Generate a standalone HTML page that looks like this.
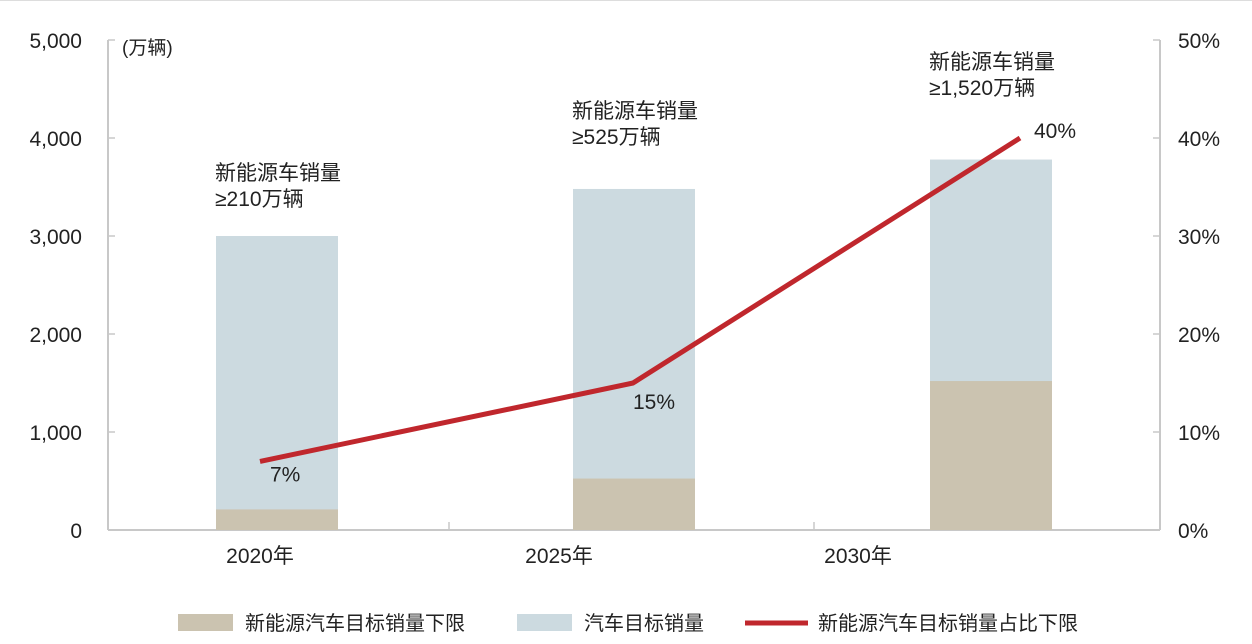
<!DOCTYPE html>
<html><head><meta charset="utf-8"><style>
body{margin:0;background:#fff;font-family:"Liberation Sans","Noto Sans CJK SC",sans-serif;}
text{font-family:"Liberation Sans","Noto Sans CJK SC",sans-serif;}
</style></head><body>
<svg id="chart" width="1252" height="639" xmlns="http://www.w3.org/2000/svg">
<line x1="0" y1="0.5" x2="1252" y2="0.5" stroke="#ddd"/>
<g id="axes"></g>
<g id="bars"></g>
<g id="line"></g>
<g id="legend">
<rect x="178" y="614" width="55" height="17" fill="#cbc3b0"/>
<text x="245" y="630" font-size="20" fill="#222">新能源汽车目标销量下限</text>
<rect x="517" y="614" width="55" height="17" fill="#ccdae0"/>
<text x="584" y="630" font-size="20" fill="#222">汽车目标销量</text>
<line x1="745" y1="623" x2="808" y2="623" stroke="#c0272d" stroke-width="5"/>
<text x="818" y="630" font-size="20" fill="#222">新能源汽车目标销量占比下限</text>
</g>
</svg>
<script>
const categories=["2020年","2025年","2030年"];
const totalSales=[3000,3480,3780];
const nevSales=[210,525,1520];
const nevShare=[7,15,40];
const leftTicks=[0,1000,2000,3000,4000,5000];
const rightTicks=[0,10,20,30,40,50];
const annotations=["≥210万辆","≥525万辆","≥1,520万辆"];
const NS="http://www.w3.org/2000/svg";
const y0=530,yTop=40;
const yL=v=>y0-(v/5000)*(y0-yTop);
const yR=v=>y0-(v/50)*(y0-yTop);
const barX=i=>216+i*357;
const barW=122;
const labelX=i=>260+i*299;
const lineX=i=>[260,633,1020][i];
const annTop=[173,111,62];
function mk(tag,attrs,parent,txt){const e=document.createElementNS(NS,tag);for(const k in attrs)e.setAttribute(k,attrs[k]);if(txt!=null)e.textContent=txt;document.getElementById(parent).appendChild(e);return e;}
let e=mk('line',{x1:108,y1:yTop,x2:108,y2:y0,stroke:'#c8c8c8','stroke-width':2},'axes');


e=mk('line',{x1:1160,y1:yTop,x2:1160,y2:y0,stroke:'#c8c8c8','stroke-width':2},'axes');


e=mk('line',{x1:108,y1:y0,x2:1160,y2:y0,stroke:'#c8c8c8','stroke-width':2},'axes');


[449,814].forEach(x=>{
 e=mk('line',{x1:x,y1:y0-8,x2:x,y2:y0,stroke:'#c8c8c8','stroke-width':1.5},'axes');
 
 
});
leftTicks.forEach(v=>{
 e=mk('line',{x1:108,y1:yL(v),x2:115,y2:yL(v),stroke:'#c8c8c8','stroke-width':1.5},'axes');
 
 
 e=mk('text',{x:82,y:yL(v)+8,'font-size':21,'text-anchor':'end',fill:'#222'},'axes',v.toLocaleString('en-US'));
 
 
});
rightTicks.forEach(v=>{
 e=mk('line',{x1:1153,y1:yR(v),x2:1160,y2:yR(v),stroke:'#c8c8c8','stroke-width':1.5},'axes');
 
 
 e=mk('text',{x:1178,y:yR(v)+8,'font-size':21,fill:'#222'},'axes',v+'%');
 
 
});
e=mk('text',{x:122,y:54,'font-size':19,fill:'#222'},'axes','(万辆)');


categories.forEach((c,i)=>{
 e=mk('text',{x:labelX(i),y:563,'font-size':21,'text-anchor':'middle',fill:'#222'},'axes',c);
 
 
 e=mk('rect',{x:barX(i),y:yL(totalSales[i]),width:barW,height:y0-yL(totalSales[i]),fill:'#ccdae0'},'bars');
 
 
 e=mk('rect',{x:barX(i),y:yL(nevSales[i]),width:barW,height:y0-yL(nevSales[i]),fill:'#cbc3b0'},'bars');
 
 
 const ay=annTop[i]+7;
 e=mk('text',{x:barX(i)-1,y:ay,'font-size':21,fill:'#222'},'bars','新能源车销量');
 
 
 e=mk('text',{x:barX(i)-1,y:ay+26,'font-size':21,fill:'#222'},'bars',annotations[i]);
 
 
});
const pts=nevShare.map((v,i)=>lineX(i)+','+yR(v)).join(' ');
e=mk('polyline',{points:pts,fill:'none',stroke:'#c0272d','stroke-width':5,'stroke-linejoin':'round'},'line');


const off=[[10,20],[0,26],[14,0]];
nevShare.forEach((v,i)=>{
 e=mk('text',{x:lineX(i)+off[i][0],y:yR(v)+off[i][1],'font-size':21,fill:'#222'},'line',v+'%');
 
 
});
</script>
</body></html>
